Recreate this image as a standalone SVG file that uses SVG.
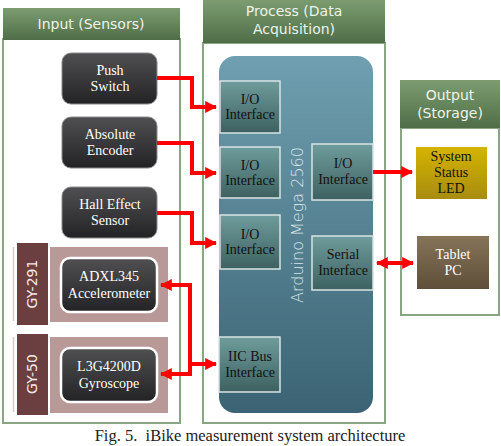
<svg xmlns="http://www.w3.org/2000/svg" width="501" height="446" viewBox="0 0 501 446">
<defs>
<linearGradient id="gHead" x1="0" y1="0" x2="0" y2="1"><stop offset="0" stop-color="#7c9c70"/><stop offset="1" stop-color="#4f6e48"/></linearGradient>
<linearGradient id="gDark" x1="0" y1="0" x2="0" y2="1"><stop offset="0" stop-color="#505052"/><stop offset="1" stop-color="#232325"/></linearGradient>
<linearGradient id="gIf" x1="0" y1="0" x2="0" y2="1"><stop offset="0" stop-color="#6f9c9c"/><stop offset="1" stop-color="#3e6161"/></linearGradient>
<linearGradient id="gArd" x1="0" y1="0" x2="0" y2="1"><stop offset="0" stop-color="#6f9fb0"/><stop offset="1" stop-color="#3b6373"/></linearGradient>
<linearGradient id="gLed" x1="0" y1="0" x2="0" y2="1"><stop offset="0" stop-color="#d4b400"/><stop offset="1" stop-color="#a88c10"/></linearGradient>
<linearGradient id="gTab" x1="0" y1="0" x2="0" y2="1"><stop offset="0" stop-color="#867458"/><stop offset="1" stop-color="#5e4f3a"/></linearGradient>
<marker id="ah" viewBox="0 0 10 10" refX="9" refY="5" markerWidth="3" markerHeight="3.4" orient="auto-start-reverse" markerUnits="strokeWidth"><path d="M0,0 L10,5 L0,10 z" fill="#ff0000"/></marker>
<style>
.panel{fill:#ffffff;stroke:#8aa582;stroke-width:2}
.head{fill:url(#gHead)}
.htxt{font-family:"DejaVu Sans","Open Sans",sans-serif;font-size:14px;fill:#eef3ea;text-anchor:middle}
.dark{fill:url(#gDark);stroke:#8a8a8a;stroke-width:1}
.darkw{fill:url(#gDark);stroke:#ffffff;stroke-width:2.5}
.wt{font-family:"Liberation Serif","Times New Roman",serif;font-size:14px;fill:#ffffff;text-anchor:middle}
.bt{font-family:"Liberation Serif","Times New Roman",serif;font-size:14px;fill:#111111;text-anchor:middle}
.if{fill:url(#gIf);stroke:#d8e4e4;stroke-width:1.5}
.pink{fill:#b99898}
.bar{fill:#6b3f3f}
.gy{font-family:"DejaVu Sans","Open Sans",sans-serif;font-size:14px;fill:#f4eaea;text-anchor:middle}
.conn{fill:none;stroke:#ff0000;stroke-width:4;stroke-linejoin:miter}
</style>
</defs>
<rect width="501" height="446" fill="#ffffff"/>

<g id="input-panel">
<rect class="panel" x="3" y="39" width="177" height="384"/>
<rect class="head" x="3" y="8" width="177" height="32"/>
<text class="htxt" x="91" y="29">Input (Sensors)</text>
</g>
<g id="process-panel">
<rect class="panel" x="203" y="43" width="182" height="380"/>
<rect class="head" x="203" y="0" width="182" height="43"/>
<text class="htxt" x="294" y="16">Process (Data</text>
<text class="htxt" x="294" y="34">Acquisition)</text>
</g>
<g id="output-panel">
<rect class="panel" x="401" y="128" width="98" height="187"/>
<rect class="head" x="400" y="80" width="100" height="48"/>
<text class="htxt" x="450" y="100">Output</text>
<text class="htxt" x="450" y="118">(Storage)</text>
</g>

<g id="arduino">
<rect x="219" y="56" width="154" height="357" rx="16" fill="url(#gArd)"/>
<text x="303" y="225" transform="rotate(-90 303 225)" font-family="DejaVu Sans,Open Sans,sans-serif" font-size="16" font-weight="300" fill="#e6f0f3" text-anchor="middle" opacity="0.9">Arduino Mega 2560</text>
</g>

<g id="push-switch"><rect class="dark" x="62" y="53" width="95" height="51" rx="9"/><text class="wt" x="110" y="75">Push</text><text class="wt" x="110" y="91">Switch</text></g>
<g id="absolute-encoder"><rect class="dark" x="62" y="117" width="95" height="51" rx="9"/><text class="wt" x="110" y="139">Absolute</text><text class="wt" x="110" y="155">Encoder</text></g>
<g id="hall-effect"><rect class="dark" x="62" y="187" width="95" height="51" rx="9"/><text class="wt" x="110" y="209">Hall Effect</text><text class="wt" x="110" y="225">Sensor</text></g>

<g id="gy-291">
<line x1="13.5" y1="247" x2="13.5" y2="321" stroke="#d9c8c8" stroke-width="1.5"/>
<rect class="pink" x="50" y="247" width="118" height="75"/>
<rect class="bar" x="17" y="243" width="31" height="82"/>
<text class="gy" x="37" y="284" transform="rotate(-90 37 284)">GY-291</text>
</g>
<g id="adxl345"><rect class="darkw" x="61" y="258" width="96" height="54" rx="9"/><text class="wt" x="109" y="281">ADXL345</text><text class="wt" x="109" y="298">Accelerometer</text></g>

<g id="gy-50">
<line x1="13.5" y1="337" x2="13.5" y2="412" stroke="#d9c8c8" stroke-width="1.5"/>
<rect class="pink" x="50" y="337" width="118" height="76"/>
<rect class="bar" x="17" y="334" width="31" height="81"/>
<text class="gy" x="37" y="374" transform="rotate(-90 37 374)">GY-50</text>
</g>
<g id="l3g4200d"><rect class="darkw" x="61" y="348" width="96" height="54" rx="9"/><text class="wt" x="109" y="371">L3G4200D</text><text class="wt" x="109" y="388">Gyroscope</text></g>

<g id="io1"><rect class="if" x="220" y="81" width="60" height="52"/><text class="bt" x="250" y="104">I/O</text><text class="bt" x="250" y="119">Interface</text></g>
<g id="io2"><rect class="if" x="220" y="147" width="60" height="51"/><text class="bt" x="250" y="170">I/O</text><text class="bt" x="250" y="185">Interface</text></g>
<g id="io3"><rect class="if" x="220" y="215" width="60" height="54"/><text class="bt" x="250" y="239">I/O</text><text class="bt" x="250" y="254">Interface</text></g>
<g id="iic"><rect class="if" x="219" y="337" width="61" height="55"/><text class="bt" x="250" y="361">IIC Bus</text><text class="bt" x="250" y="377">Interface</text></g>
<g id="io-out"><rect class="if" x="312" y="144" width="61" height="56"/><text class="bt" x="343" y="168">I/O</text><text class="bt" x="343" y="184">Interface</text></g>
<g id="serial"><rect class="if" x="312" y="236" width="61" height="54"/><text class="bt" x="343" y="259">Serial</text><text class="bt" x="343" y="275">Interface</text></g>

<g id="led"><rect x="416" y="147" width="71" height="52" fill="url(#gLed)"/><text class="bt" x="451" y="161">System</text><text class="bt" x="451" y="177">Status</text><text class="bt" x="451" y="193">LED</text></g>
<g id="tablet"><rect x="417" y="236" width="72" height="53" fill="url(#gTab)"/><text class="wt" x="453" y="259" fill="#f0ebe0">Tablet</text><text class="wt" x="453" y="275">PC</text></g>

<g id="connectors">
<path class="conn" d="M157,78 H192 V107 H216" marker-end="url(#ah)"/>
<path class="conn" d="M157,143 H192 V173 H216" marker-end="url(#ah)"/>
<path class="conn" d="M157,213 H192 V243 H216" marker-end="url(#ah)"/>
<path class="conn" d="M373,172 H412" marker-end="url(#ah)"/>
<path class="conn" d="M377,263 H413" marker-start="url(#ah)" marker-end="url(#ah)"/>
<path class="conn" d="M161,285 H190 V374 H161" marker-start="url(#ah)" marker-end="url(#ah)"/>
<path class="conn" d="M190,364 H216" marker-end="url(#ah)"/>
</g>

<text x="250" y="441" font-family="Liberation Serif,Times New Roman,serif" font-size="16.5" fill="#222" text-anchor="middle" xml:space="preserve">Fig. 5.  iBike measurement system architecture</text>
</svg>
